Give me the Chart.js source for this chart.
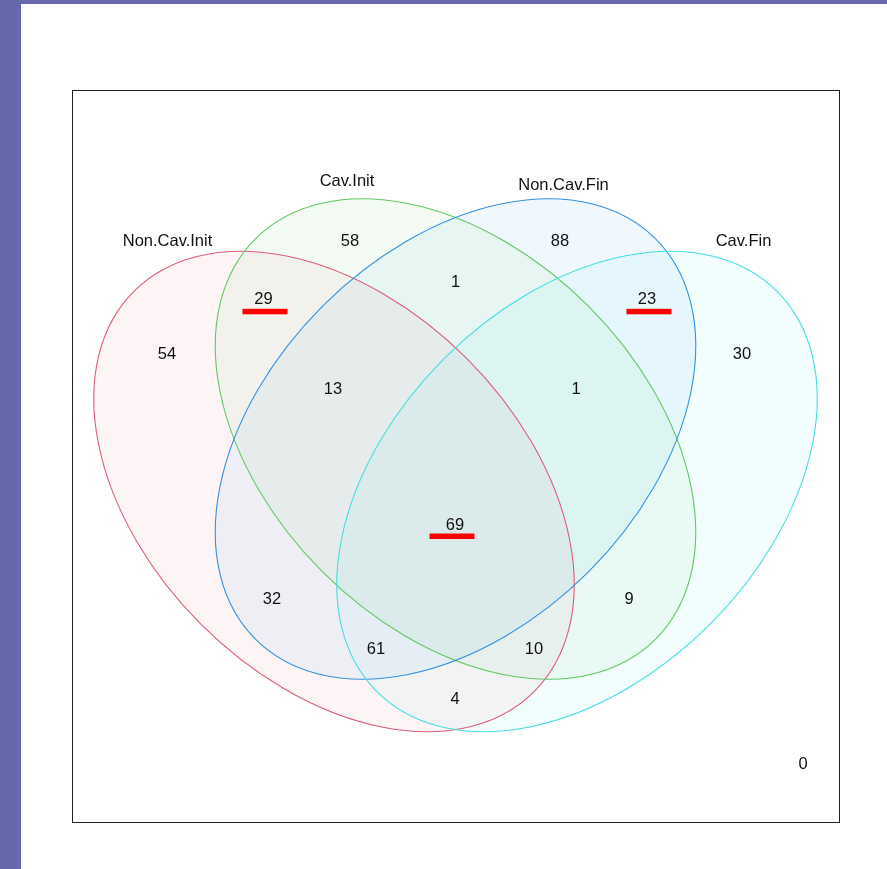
<!DOCTYPE html>
<html>
<head>
<meta charset="utf-8">
<script src="https://cdn.jsdelivr.net/npm/chart.js@4/dist/chart.umd.min.js"></script>
<style>
  html, body { margin: 0; padding: 0; background: #6767AD; width: 887px; height: 869px; overflow: hidden; }
  #panel { position: absolute; left: 21px; top: 4px; width: 866px; height: 865px; background: #ffffff; }
</style>
</head>
<body>
<div id="panel"><canvas id="venn"></canvas></div>
<script>
// Four sets compared in the diagram
const setNames = ['Non.Cav.Init', 'Cav.Init', 'Non.Cav.Fin', 'Cav.Fin'];

// Each region is written as membership flags in setNames order
const regionKeys = ['1000', '0100', '0010', '0001',
                    '1100', '0110', '0011', '1010', '0101', '1001',
                    '1110', '0111', '1011', '1101',
                    '1111', '0000'];
const regionCounts = [54, 58, 88, 30,
                      29, 1, 23, 32, 9, 4,
                      13, 1, 61, 10,
                      69, 0];

// Counts that are underlined in red
const highlightedRegions = ['1100', '0011', '1111'];

// ---- layout (plot units: 768 x 733, origin top-left) ----
const regionLabelX = [95, 278, 488, 670,
                      191.5, 383.5, 575, 200, 557, 383,
                      261, 504, 304, 462,
                      383, 731];
const regionLabelY = [263, 150, 150.5, 263,
                      208.3, 191, 208.3, 508, 508, 608,
                      298, 298, 558, 558,
                      434.5, 673];

// horizontal nudge of each underline relative to its number
const underlineShiftX = [1.5, 2, -3];
const underlineShiftY = [10.5, 10.5, 9];

const setLabelX = [95.5, 275, 491.5, 671.5];
const setLabelY = [150, 90, 94, 150.5];

const ellipseCX = [262, 383.5, 383.5, 505];
const ellipseCY = [401.5, 349, 349, 401.5];
const ellipseRX = 283;
const ellipseRY = 188;
const ellipseRot = [45, 45, -45, -45];

const strokeColors = ['#DE5C78', '#62C862', '#3391E0', '#44DEE0'];
const fillColors = ['rgba(224,96,122,0.065)', 'rgba(96,200,96,0.065)',
                    'rgba(47,143,224,0.065)', 'rgba(64,224,224,0.065)'];

const FONT = '16.5px "Liberation Sans", Arial, sans-serif';
const TEXT_COLOR = '#111111';

const regionPoints = regionKeys.map((k, i) => ({
  x: regionLabelX[i], y: regionLabelY[i], key: k, count: regionCounts[i]
}));

const vennPlugin = {
  id: 'vennPlugin',
  beforeDatasetsDraw(chart) {
    const { ctx, chartArea, scales } = chart;
    const xs = scales.x, ys = scales.y;

    // frame
    ctx.save();
    ctx.strokeStyle = '#222222';
    ctx.lineWidth = 1;
    ctx.strokeRect(Math.round(chartArea.left) + 0.5, Math.round(chartArea.top) + 0.5,
                   Math.round(chartArea.right - chartArea.left) - 1,
                   Math.round(chartArea.bottom - chartArea.top) - 1);
    ctx.restore();

    const shapes = setNames.map((_, i) => {
      const px = xs.getPixelForValue(ellipseCX[i]);
      const py = ys.getPixelForValue(ellipseCY[i]);
      const rx = Math.abs(xs.getPixelForValue(ellipseCX[i] + ellipseRX) - px);
      const ry = Math.abs(xs.getPixelForValue(ellipseCX[i] + ellipseRY) - px);
      return { px, py, rx, ry, rot: ellipseRot[i] * Math.PI / 180 };
    });

    ctx.save();
    shapes.forEach((s, i) => {
      ctx.beginPath();
      ctx.ellipse(s.px, s.py, s.rx, s.ry, s.rot, 0, Math.PI * 2);
      ctx.fillStyle = fillColors[i];
      ctx.fill();
    });
    ctx.lineWidth = 1.1;
    shapes.forEach((s, i) => {
      ctx.beginPath();
      ctx.ellipse(s.px, s.py, s.rx, s.ry, s.rot, 0, Math.PI * 2);
      ctx.strokeStyle = strokeColors[i];
      ctx.stroke();
    });
    ctx.restore();
  },
  afterDatasetsDraw(chart) {
    const { ctx, scales } = chart;
    const xs = scales.x, ys = scales.y;
    ctx.save();
    ctx.font = FONT;
    ctx.fillStyle = TEXT_COLOR;
    ctx.textAlign = 'center';
    ctx.textBaseline = 'alphabetic';
    const capHalf = 16.5 * 0.716 / 2;

    setNames.forEach((name, i) => {
      ctx.fillText(name, xs.getPixelForValue(setLabelX[i]), ys.getPixelForValue(setLabelY[i]) + capHalf);
    });

    chart.data.datasets[0].data.forEach(p => {
      const px = xs.getPixelForValue(p.x);
      const py = ys.getPixelForValue(p.y);
      ctx.fillStyle = TEXT_COLOR;
      ctx.fillText(String(p.count), px, py + capHalf);
      const h = highlightedRegions.indexOf(p.key);
      if (h >= 0) {
        ctx.fillStyle = '#FF0000';
        ctx.fillRect(px - 22.5 + underlineShiftX[h], py + underlineShiftY[h], 45, 5.5);
      }
    });
    ctx.restore();
  }
};

new Chart(document.getElementById('venn'), {
  type: 'scatter',
  data: {
    datasets: [{
      label: 'regions',
      data: regionPoints,
      pointRadius: 0,
      pointHoverRadius: 0
    }]
  },
  options: {
    responsive: true,
    maintainAspectRatio: false,
    animation: false,
    events: [],
    layout: { padding: { left: 51, top: 86, right: 47, bottom: 46 } },
    plugins: { legend: { display: false }, tooltip: { enabled: false } },
    scales: {
      x: { type: 'linear', min: 0, max: 768, display: false },
      y: { type: 'linear', min: 0, max: 733, reverse: true, display: false }
    }
  },
  plugins: [vennPlugin]
});
</script>
</body>
</html>
